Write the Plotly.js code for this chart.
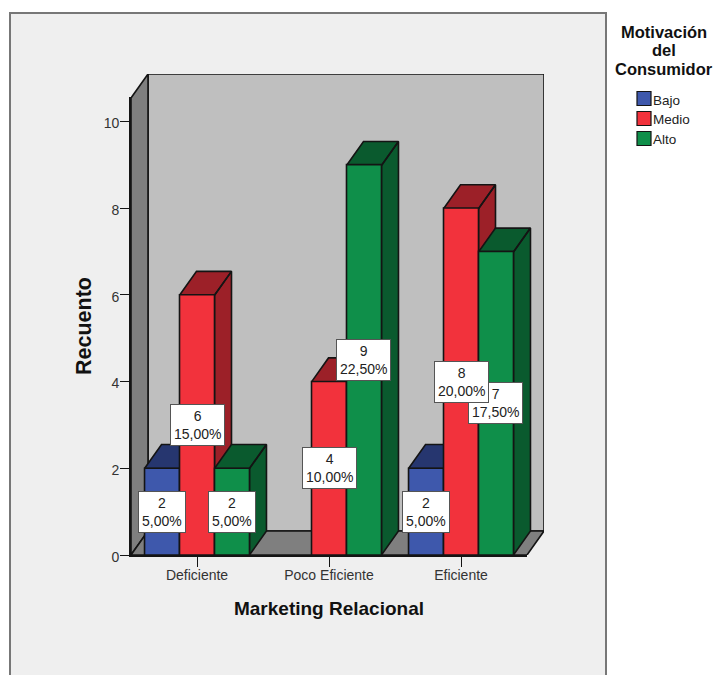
<!DOCTYPE html>
<html>
<head>
<meta charset="utf-8">
<script src="https://cdn.plot.ly/plotly-3.0.1.min.js"></script>
<style>html,body{margin:0;padding:0;background:#fff}#chart{width:714px;height:675px}</style>
</head>
<body>
<div id="chart"></div>
<script>
// Recuento por nivel de marketing relacional y motivación del consumidor
const categories = ['Deficiente', 'Poco Eficiente', 'Eficiente'];
const seriesNames = ['Bajo', 'Medio', 'Alto'];
const bajo = [2, null, 2];
const medio = [6, 4, 8];
const alto = [2, 9, 7];
const seriesValues = [bajo, medio, alto];
const frontColors = ['#3E58AC', '#F2323C', '#0F8F4A'];
const darkColors = ['#26366F', '#9C2028', '#0A5A2E'];
const legendTitleLines = ['Motivación', 'del', 'Consumidor'];
const totalCount = 40;
const yTicks = [0, 2, 4, 6, 8, 10];

// Scale setup: the fake 3D depth is expressed in axis units
const W = 714, H = 675;
const yTop = 10.56;
const depthX = 17 / 132, depthY = 24 / 43.37;
const barGap = 0.205;
const barWidth = (1 - barGap) / 3;
const edge = '#141414';
const categoryIdx = categories.map((_, i) => i);
const xL = -0.5, xR = 2.5;

function polygonTrace(xs, ys, fill) {
  return {
    type: 'scatter', mode: 'lines', x: xs, y: ys, fill: 'toself', fillcolor: fill,
    line: {color: edge, width: 1.6}, hoverinfo: 'skip', showlegend: false
  };
}

const walls = [
  polygonTrace([xL + depthX, xR + depthX, xR + depthX, xL + depthX, xL + depthX],
               [depthY, depthY, yTop + depthY, yTop + depthY, depthY], '#BFBFBF'),
  polygonTrace([xL, xL + depthX, xL + depthX, xL, xL],
               [0, depthY, yTop + depthY, yTop, 0], '#7F7F7F'),
  polygonTrace([xL, xR, xR + depthX, xL + depthX, xL],
               [0, 0, depthY, depthY, 0], '#7F7F7F')
];

// Top and side faces of each bar, one trace per series so nearer series paint last
const depthFaces = seriesValues.map((vals, s) => {
  const xs = [], ys = [];
  vals.forEach((v, c) => {
    if (v === null) return;
    const l = c + (s - 1.5) * barWidth, r = l + barWidth;
    xs.push(l, r, r + depthX, l + depthX, l, null);
    ys.push(v, v, v + depthY, v + depthY, v, null);
    xs.push(r, r + depthX, r + depthX, r, r, null);
    ys.push(0, depthY, v + depthY, v, 0, null);
  });
  return polygonTrace(xs, ys, darkColors[s]);
});

// Front faces sit on a later subplot, stacked above every depth face
const fronts = seriesValues.map((vals, s) => ({
  type: 'bar', name: seriesNames[s], x: categoryIdx, y: vals, xaxis: 'x2', yaxis: 'y2',
  marker: {color: frontColors[s], line: {color: edge, width: 1.6}}, showlegend: false
}));

// Value labels: count and share of the total, centred on each bar front
const pct = v => (v / totalCount * 100).toFixed(2).replace('.', ',') + '%';
const annotations = [];
for (let s = seriesValues.length - 1; s >= 0; s--) {
  seriesValues[s].forEach((v, c) => {
    if (v === null) return;
    annotations.push({
      xref: 'x2', yref: 'y2', x: c + (s - 1) * barWidth, y: v / 2, showarrow: false,
      text: v + '<br>' + pct(v), align: 'center',
      font: {family: 'Liberation Sans', size: 14, color: '#222'},
      bgcolor: '#fff', bordercolor: '#555', borderwidth: 1, borderpad: 3
    });
  });
}

// Legend block to the right of the panel
const px = x => x / W, py = y => 1 - y / H;
legendTitleLines.forEach((line, i) => {
  annotations.push({
    xref: 'paper', yref: 'paper', x: px(664), y: py(32 + i * 18.5),
    xanchor: 'center', yanchor: 'middle', showarrow: false, text: '<b>' + line + '</b>',
    font: {family: 'Liberation Sans', size: 16.5, color: '#111'}
  });
});
const shapes = [{
  type: 'rect', layer: 'below', xref: 'paper', yref: 'paper',
  x0: px(10), x1: px(606), y0: -0.02, y1: py(13),
  fillcolor: '#EFEFEF', line: {color: '#777', width: 2}
}];
seriesNames.forEach((name, s) => {
  const yc = 98.5 + s * 20;
  shapes.push({
    type: 'rect', xref: 'paper', yref: 'paper',
    x0: px(637), x1: px(651), y0: py(yc + 7), y1: py(yc - 7),
    fillcolor: frontColors[s], line: {color: edge, width: 1.2}
  });
  annotations.push({
    xref: 'paper', yref: 'paper', x: px(653), y: py(100 + s * 19.7),
    xanchor: 'left', yanchor: 'middle', showarrow: false, xshift: -2,
    text: name, font: {family: 'Liberation Sans', size: 13.5, color: '#222'}
  });
});

const axisLine = {showline: true, linecolor: edge, linewidth: 1.6, showgrid: false, zeroline: false,
                  ticks: 'outside', tickcolor: edge, tickwidth: 1.4,
                  tickfont: {family: 'Liberation Sans', size: 14, color: '#333'}};

const layout = {
  width: W, height: H, margin: {l: 0, r: 0, t: 0, b: 0},
  paper_bgcolor: '#fff', plot_bgcolor: 'rgba(0,0,0,0)',
  barmode: 'group', bargap: barGap, bargroupgap: 0, showlegend: false,
  // Box axes include the depth offset; they carry the walls and the bar depth faces
  xaxis: {domain: [131 / W, 544 / W], range: [xL, xR + depthX], visible: false},
  yaxis: {domain: [1 - 555 / H, 1 - 74 / H], range: [0, yTop + depthY], visible: false},
  // Front axes carry the ticks, titles and bar fronts
  xaxis2: Object.assign({}, axisLine, {
    anchor: 'y2', domain: [131 / W, 527 / W], range: [xL, xR],
    tickvals: categoryIdx, ticktext: categories, ticklen: 10, ticklabelstandoff: -4,
    title: {text: 'Marketing Relacional', standoff: 20,
            font: {family: 'Liberation Sans', size: 19, weight: 'bold', color: '#111'}}
  }),
  yaxis2: Object.assign({}, axisLine, {
    anchor: 'x2', domain: [1 - 555 / H, 1 - 97 / H], range: [0, yTop],
    tickvals: yTicks, ticklen: 9, ticklabelstandoff: -2, ticklabelshift: 2,
    title: {text: 'Recuento', standoff: 6,
            font: {family: 'Liberation Sans', size: 21.5, weight: 'bold', color: '#111'}}
  }),
  shapes: shapes,
  annotations: annotations
};

Plotly.newPlot('chart', walls.concat(depthFaces, fronts), layout, {displayModeBar: false});
</script>
</body>
</html>
